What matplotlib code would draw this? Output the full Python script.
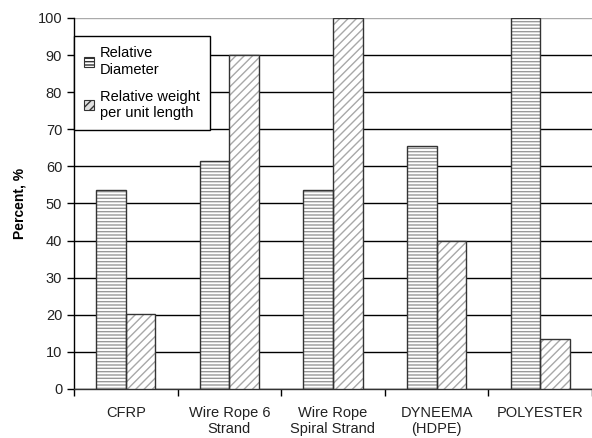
import numpy as np
import matplotlib
matplotlib.use("Agg")
import matplotlib.pyplot as plt
from matplotlib.patches import Patch

plt.rcParams['font.family'] = ['Liberation Sans', 'DejaVu Sans']
plt.rcParams['hatch.linewidth'] = 1.0

categories = ["CFRP", "Wire Rope 6\nStrand", "Wire Rope\nSpiral Strand",
              "DYNEEMA\n(HDPE)", "POLYESTER"]
rel_diameter = [53.5, 61.5, 53.5, 65.5, 100]
rel_weight = [20.3, 90, 100, 40, 13.5]

fig = plt.figure(figsize=(5.92, 4.38), dpi=100)
ax = fig.add_axes([0.125, 0.112, 0.875, 0.847])

x = np.arange(len(categories))
w = 0.285

# hatched fill first, then a dark outline on top
ax.bar(x - w / 2, rel_diameter, w, color='white', edgecolor='#999999',
       hatch='-----', linewidth=0, zorder=3)
ax.bar(x + w / 2, rel_weight, w, color='white', edgecolor='#a8a8a8',
       hatch='////', linewidth=0, zorder=3)
ax.bar(x - w / 2, rel_diameter, w, fill=False, edgecolor='#333333',
       linewidth=1.0, zorder=4)
ax.bar(x + w / 2, rel_weight, w, fill=False, edgecolor='#333333',
       linewidth=1.0, zorder=4)

# legend proxies
h1 = Patch(facecolor='white', edgecolor='#333333', hatch='-----', linewidth=0.8)
h2 = Patch(facecolor='#e0e0e0', edgecolor='#333333', hatch='////', linewidth=0.8)
leg = ax.legend([h1, h2], ["Relative\nDiameter", "Relative weight\nper unit length"],
                loc='upper left', bbox_to_anchor=(0.0, 0.951), fontsize=10.5,
                frameon=True, fancybox=False, framealpha=1, edgecolor='black',
                handlelength=0.7, handleheight=0.7, handletextpad=0.35,
                labelspacing=0.9, borderpad=0.7, borderaxespad=0)
leg.get_frame().set_linewidth(1.0)
leg.set_zorder(5)

ax.set_xlim(-0.5, len(categories) - 0.5)
ax.set_ylim(0, 100)
ax.set_yticks(np.arange(0, 101, 10))
ax.tick_params(axis='y', labelsize=10.5, direction='out', length=5, width=1,
               color='black', labelcolor='#222222')

ax.set_xticks(x)
ax.set_xticklabels(categories, fontsize=10.5, color='#222222')
ax.tick_params(axis='x', which='major', length=0, pad=12)
ax.set_xticks(np.arange(-0.5, len(categories) + 0.5, 1), minor=True)
ax.tick_params(axis='x', which='minor', length=5, width=1, direction='out',
               color='black')

ax.yaxis.grid(True, color='black', linewidth=1.0, zorder=0)
ax.set_axisbelow(True)
ax.yaxis.get_gridlines()[-1].set_color('#aaaaaa')

for s in ['top', 'right']:
    ax.spines[s].set_visible(False)
ax.spines['left'].set_linewidth(1.0)
ax.spines['bottom'].set_linewidth(1.0)
ax.spines['bottom'].set_color('#333333')

ax.set_ylabel("Percent, %", fontsize=10, fontweight='bold', labelpad=8)

fig.savefig("out.png", dpi=100)
